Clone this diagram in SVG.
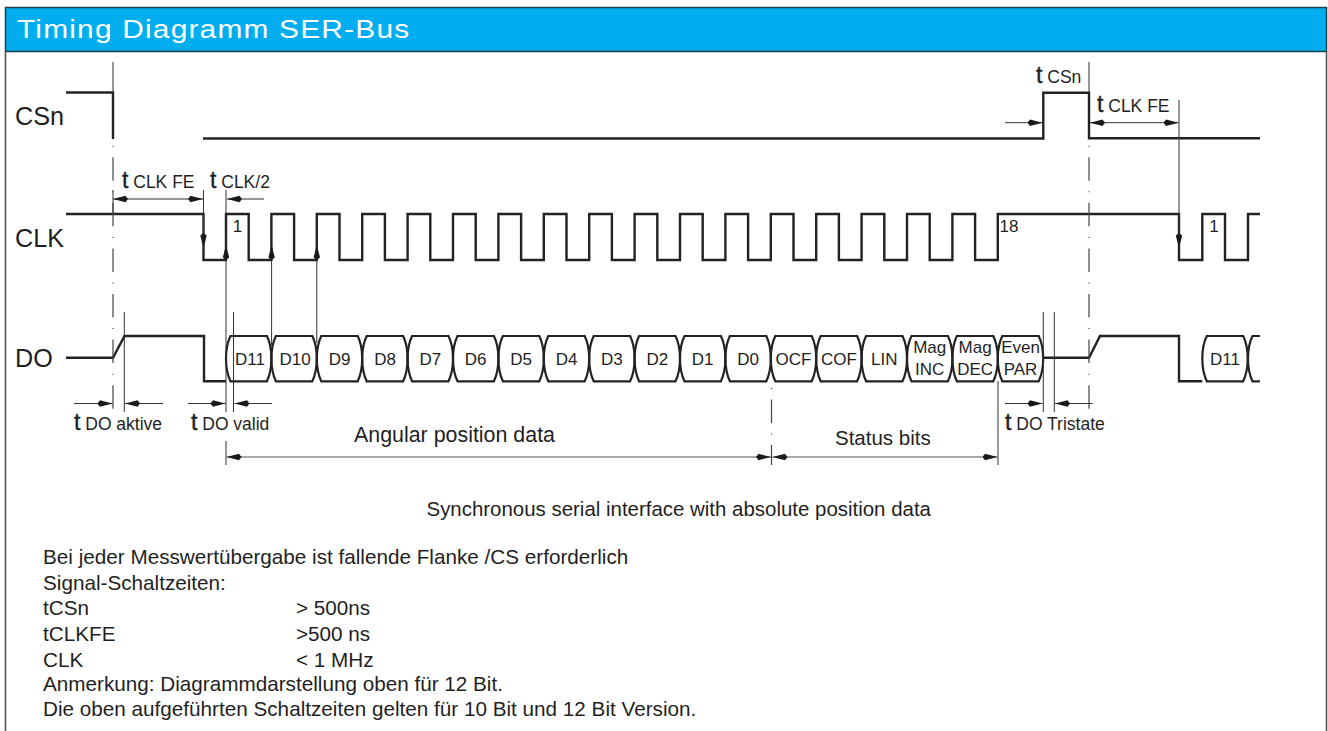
<svg xmlns="http://www.w3.org/2000/svg" width="1328" height="731" viewBox="0 0 1328 731">
<style>
text{font-family:"Liberation Sans",Arial,sans-serif;fill:#1f1f1f}
.sig{fill:none;stroke:#222;stroke-width:2.4}
.cell{fill:none;stroke:#222;stroke-width:2.2}
.dim{fill:none;stroke:#333;stroke-width:1}
.dim2{fill:none;stroke:#555;stroke-width:1.2}
.dd{fill:none;stroke:#444;stroke-width:1.2;stroke-dasharray:1 10.5 23.5 10.6}
.name{font-size:25.2px}
.lab{font-size:17.5px}
.t{font-size:23px;stroke:#1f1f1f;stroke-width:.4}
.bit{font-size:17px;text-anchor:middle}
.body{font-size:20.7px}
</style>
<defs>
<marker id="ah" markerUnits="userSpaceOnUse" markerWidth="16" markerHeight="8" refX="15" refY="4" orient="auto-start-reverse"><path d="M0,4 L2.5,0.8 L15,4 L2.5,7.2Z" fill="#1a1a1a"/></marker>
<path id="c" class="cell" d="M0,358.5 C0,350 2,341 4.5,336 H40.9 C43.4,341 45.4,350 45.4,358.5 C45.4,367 43.4,376 40.9,381.3 H4.5 C2,376 0,367 0,358.5Z"/>
</defs>
<rect width="1328" height="731" fill="#fff"/>
<g id="frame">
<rect x="5.5" y="7.5" width="1321" height="44" fill="#00aeef" stroke="#1c4050" stroke-width="1.5"/>
<path d="M5.5,51 V731 M1326.5,51 V731" fill="none" stroke="#555" stroke-width="1.6"/>
<text transform="translate(17 38) scale(1.15 1)" font-size="26" letter-spacing="1.04" style="fill:#fff">Timing Diagramm SER-Bus</text>
</g>
<g id="CSn">
<path class="sig" d="M66,92.5 H113 V139"/>
<path class="sig" d="M203,138.5 H1043.3 V92.7 H1089 V138.3 H1260"/>
<text class="name" x="15" y="125">CSn</text>
</g>
<g id="CLK">
<path class="sig" d="M66,214 H203.5 V260 H226 V214 H248.7 V260 H271.4 V214 H294.1 V260 H316.8 V214 H339.5 V260 H362.2 V214 H384.9 V260 H407.6 V214 H430.3 V260 H453 V214 H475.7 V260 H498.4 V214 H521.1 V260 H543.8 V214 H566.5 V260 H589.2 V214 H611.9 V260 H634.6 V214 H657.3 V260 H680 V214 H702.7 V260 H725.4 V214 H748.1 V260 H770.8 V214 H793.5 V260 H816.2 V214 H838.9 V260 H861.6 V214 H884.3 V260 H907 V214 H929.7 V260 H952.4 V214 H975.1 V260 H997.8 V214 H1179 V260 H1202.3 V214 H1225 V260 H1248 V214 H1260"/>
<text class="name" x="15" y="246.5">CLK</text>
<text class="bit" x="237.5" y="232">1</text>
<text class="bit" x="1009" y="232">18</text>
<text class="bit" x="1214" y="232">1</text>
</g>
<g id="DO">
<path class="sig" d="M66,357.7 H113 L124.5,336 H204 V381.3 H226"/>
<path class="sig" d="M1043.2,357.7 H1089 L1100,336 H1179 V381.3 H1202.3"/>
<use href="#c" x="226"/><use href="#c" x="271.4"/><use href="#c" x="316.8"/><use href="#c" x="362.2"/><use href="#c" x="407.6"/><use href="#c" x="453"/><use href="#c" x="498.4"/><use href="#c" x="543.8"/><use href="#c" x="589.2"/><use href="#c" x="634.6"/><use href="#c" x="680"/><use href="#c" x="725.4"/><use href="#c" x="770.8"/><use href="#c" x="816.2"/><use href="#c" x="861.6"/><use href="#c" x="907"/><use href="#c" x="952.4"/><use href="#c" x="997.8"/><use href="#c" x="1202.3"/>
<path class="cell" d="M1260,336 H1252.5 C1250,341 1248,350 1248,358.5 C1248,367 1250,376 1252.5,381.3 H1260"/>
<text class="name" x="15" y="366.7">DO</text>
<g class="bits">
<text class="bit" x="250" y="364.5">D11</text><text class="bit" x="295" y="364.5">D10</text><text class="bit" x="339.5" y="364.5">D9</text><text class="bit" x="385" y="364.5">D8</text><text class="bit" x="430.3" y="364.5">D7</text><text class="bit" x="475.7" y="364.5">D6</text><text class="bit" x="521.1" y="364.5">D5</text><text class="bit" x="566.5" y="364.5">D4</text><text class="bit" x="611.9" y="364.5">D3</text><text class="bit" x="657.3" y="364.5">D2</text><text class="bit" x="702.7" y="364.5">D1</text><text class="bit" x="748.1" y="364.5">D0</text><text class="bit" x="793.5" y="364.5">OCF</text><text class="bit" x="838.9" y="364.5">COF</text><text class="bit" x="884.3" y="364.5">LIN</text>
<text class="bit" x="929.7" y="353">Mag</text><text class="bit" x="929.7" y="375">INC</text><text class="bit" x="975.1" y="353">Mag</text><text class="bit" x="975.1" y="375">DEC</text><text class="bit" x="1020.5" y="353">Even</text><text class="bit" x="1020.5" y="375">PAR</text><text class="bit" x="1225" y="364.5">D11</text>
</g>
</g>
<g id="connectors">
<path class="dim" d="M113,62 V92 M113,190 V214"/>
<path class="dd" d="M113,145.7 V412"/>
<path class="dim" d="M1089,62 V92"/>
<path class="dd" d="M1089,145.7 V412"/>
<path class="dd" d="M771.5,388 V465"/>
<path class="dim" d="M203.5,190 V248" marker-end="url(#ah)"/>
<path class="dim" d="M226,412 V245" marker-end="url(#ah)"/>
<path class="dim" d="M226,190 V214"/>
<path class="dim" d="M271.6,345 V245" marker-end="url(#ah)"/>
<path class="dim" d="M316.8,343 V245" marker-end="url(#ah)"/>
<path class="dim" d="M1179,100 V248" marker-end="url(#ah)"/>
<path class="dim" d="M113,199 H203" marker-start="url(#ah)" marker-end="url(#ah)"/>
<path class="dim" d="M264,199 H227" marker-end="url(#ah)"/>
<path class="dim" d="M124.3,312 V412 M233.5,312 V412 M1043.3,312 V412 M1054.3,312 V412"/>
<path class="dim" d="M74,403.5 H112.5" marker-end="url(#ah)"/>
<path class="dim" d="M163,403.5 H125" marker-end="url(#ah)"/>
<path class="dim" d="M188,403.5 H225.5" marker-end="url(#ah)"/>
<path class="dim" d="M272,403.5 H234.5" marker-end="url(#ah)"/>
<path class="dim" d="M1005,403.5 H1042.5" marker-end="url(#ah)"/>
<path class="dim" d="M1092.7,403.5 H1055" marker-end="url(#ah)"/>
<path class="dim" d="M1005,122.7 H1042.5" marker-end="url(#ah)"/>
<path class="dim" d="M1090,122.7 H1178.5" marker-start="url(#ah)" marker-end="url(#ah)"/>
<path class="dim2" d="M226,441 V465 M998,381 V465"/>
<path class="dim2" d="M226.5,457 H771" marker-start="url(#ah)" marker-end="url(#ah)"/>
<path class="dim2" d="M772.5,457 H997.5" marker-start="url(#ah)" marker-end="url(#ah)"/>
</g>
<g id="labels">
<text class="lab" x="122" y="188"><tspan class="t">t</tspan> CLK FE</text>
<text class="lab" x="210" y="188"><tspan class="t">t</tspan> CLK/2</text>
<text class="lab" x="74" y="430"><tspan class="t">t</tspan> DO aktive</text>
<text class="lab" x="191" y="430"><tspan class="t">t</tspan> DO valid</text>
<text class="lab" x="1036" y="83"><tspan class="t">t</tspan> CSn</text>
<text class="lab" x="1097" y="112"><tspan class="t">t</tspan> CLK FE</text>
<text class="lab" x="1005" y="430"><tspan class="t">t</tspan> DO Tristate</text>
<text x="354" y="442" font-size="21.4">Angular position data</text>
<text x="835" y="445" font-size="20.5">Status bits</text>
<text x="426.5" y="515.7" font-size="20.46">Synchronous serial interface with absolute position data</text>
</g>
<g id="notes">
<text class="body" x="43" y="564">Bei jeder Messwertübergabe ist fallende Flanke /CS erforderlich</text>
<text class="body" x="43" y="590">Signal-Schaltzeiten:</text>
<text class="body" x="43" y="615">tCSn</text><text class="body" x="296" y="615">&gt; 500ns</text>
<text class="body" x="43" y="640.7">tCLKFE</text><text class="body" x="296" y="640.7">&gt;500 ns</text>
<text class="body" x="43" y="666.5">CLK</text><text class="body" x="296" y="666.5">&lt; 1 MHz</text>
<text class="body" x="43" y="691">Anmerkung: Diagrammdarstellung oben für 12 Bit.</text>
<text class="body" x="43" y="715.7">Die oben aufgeführten Schaltzeiten gelten für 10 Bit und 12 Bit Version.</text>
</g>
</svg>
